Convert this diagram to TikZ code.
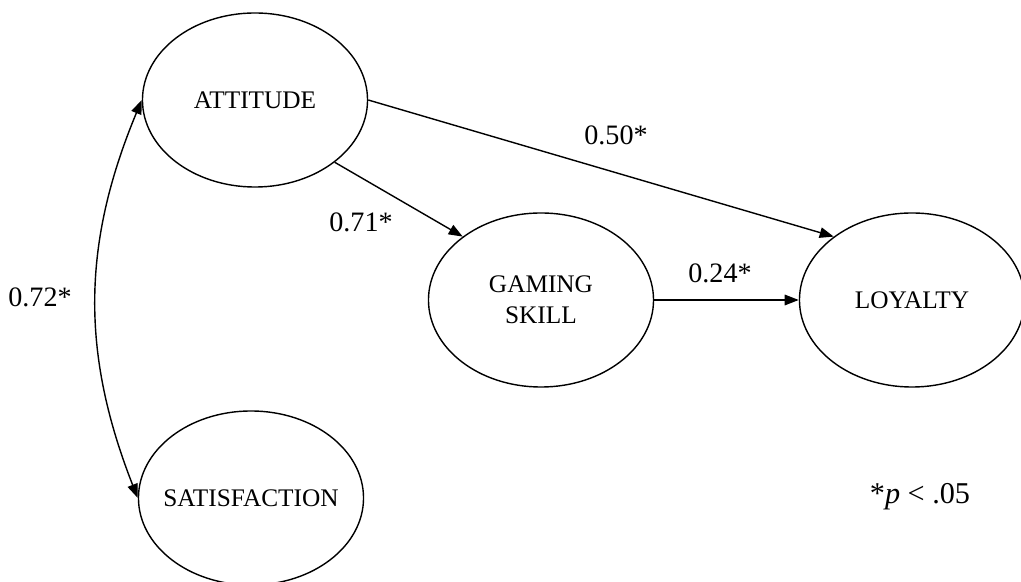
\documentclass[tikz,border=0pt]{standalone}
\usepackage{fontspec}
\setmainfont{Liberation Serif}
\usetikzlibrary{arrows.meta,positioning,shapes}

\begin{document}
\begin{tikzpicture}[x=0.025cm, y=-0.025cm,
  latent/.style={ellipse, draw, line width=1pt, inner xsep=-1cm, minimum width=5.625cm, minimum height=4.35cm, align=center, font=\fontsize{18}{22}\selectfont},
  coef/.style={inner sep=1pt, font=\fontsize{20}{24}\selectfont},
  arr/.style={line width=1pt, -{Triangle[length=10pt,width=7.5pt]}}]
  \useasboundingbox (0,0) rectangle (1021,582);
  \node[latent] (att) at (255,100) {ATTITUDE};
  \node[latent] (sat) at (251,498) {SATISFACTION};
  \node[latent] (gam) at (541,300) {GAMING\\SKILL};
  \node[latent] (loy) at (912,300) {LOYALTY};
  \draw[arr] (att.east) -- (loy.141);
  \draw[arr] (att.-38) -- (gam.141);
  \draw[arr] (gam.east) -- (loy.west);
  \draw[arr, {Triangle[length=10pt,width=7.5pt]}-{Triangle[length=10pt,width=7.5pt]}] (sat.west) to[bend left=22] (att.west);
  \node[coef] (c50) at (616,135) {0.50*};
  \node[coef] (c71) at (361,222) {0.71*};
  \node[coef] (c24) at (720,273) {0.24*};
  \node[coef] (c72) at (40,297) {0.72*};
  \node[coef, font=\fontsize{21.5}{26}\selectfont] (sig) at (920,497) {*\textit{p} < .05};
\end{tikzpicture}
\end{document}
